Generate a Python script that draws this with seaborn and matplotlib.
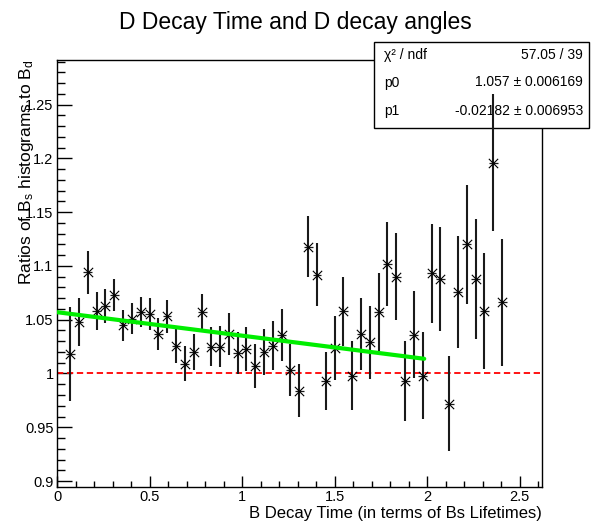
import matplotlib
matplotlib.use("Agg")
import matplotlib.pyplot as plt
from matplotlib.patches import Rectangle
from matplotlib.ticker import MultipleLocator, FuncFormatter
import numpy as np
import pandas as pd
import seaborn as sns

# Bin centres of the decay-time histogram (55 bins on 0..2.62, first bin empty)
bin_centres = [0.071, 0.119, 0.167, 0.214, 0.262, 0.310, 0.357, 0.405, 0.453, 0.500,
               0.548, 0.595, 0.643, 0.691, 0.738, 0.786, 0.834, 0.881, 0.929, 0.977,
               1.024, 1.072, 1.119, 1.167, 1.215, 1.262, 1.310, 1.358, 1.405, 1.453,
               1.501, 1.548, 1.596, 1.643, 1.691, 1.739, 1.786, 1.834, 1.882, 1.929,
               1.977, 2.025, 2.072, 2.120, 2.167, 2.215, 2.263, 2.310, 2.358, 2.406]
bin_half_width = 0.0238

# Bs / Bd ratio per bin and its statistical error
ratio = [1.018, 1.048, 1.094, 1.058, 1.063, 1.073, 1.045, 1.051, 1.057, 1.055,
         1.037, 1.053, 1.026, 1.009, 1.020, 1.057, 1.025, 1.025, 1.037, 1.019,
         1.023, 1.007, 1.020, 1.026, 1.036, 1.003, 0.984, 1.118, 1.092, 0.993,
         1.024, 1.058, 0.998, 1.037, 1.029, 1.057, 1.102, 1.090, 0.993, 1.036,
         0.998, 1.093, 1.088, 0.972, 1.076, 1.120, 1.088, 1.058, 1.196, 1.066]
ratio_err = [0.044, 0.022, 0.020, 0.0175, 0.016, 0.0153, 0.0144, 0.0144, 0.0139, 0.015,
             0.015, 0.015, 0.0158, 0.0163, 0.0166, 0.017, 0.018, 0.019, 0.0194, 0.0194,
             0.0206, 0.0204, 0.0217, 0.0229, 0.024, 0.024, 0.0248, 0.0282, 0.029, 0.0273,
             0.0297, 0.0321, 0.0321, 0.0335, 0.0337, 0.0361, 0.039, 0.0403, 0.0375, 0.0403,
             0.0406, 0.0461, 0.0482, 0.0444, 0.0519, 0.0553, 0.0556, 0.0538, 0.0635, 0.0588]

# Linear fit result (pol1) over the fit range
fit_p0, fit_p0_err = 1.057, 0.006169
fit_p1, fit_p1_err = -0.02182, 0.006953
fit_chi2, fit_ndf = 57.05, 39
fit_range = (0.0, 1.985)

title = "D Decay Time and D decay angles"
x_title = "B Decay Time (in terms of Bs Lifetimes)"
y_title = r"Ratios of B$_{\mathrm{s}}$ histograms to B$_{\mathrm{d}}$"

sns.set_theme(style="ticks")
plt.rcParams["font.family"] = ["Liberation Sans", "DejaVu Sans"]
plt.rcParams["mathtext.fontset"] = "custom"
plt.rcParams["mathtext.rm"] = "Liberation Sans"
plt.rcParams["mathtext.it"] = "Liberation Sans:italic"
plt.rcParams["mathtext.bf"] = "Liberation Sans:bold"

W, H = 591, 525
fig = plt.figure(figsize=(W / 100, H / 100), dpi=100)
fig.patch.set_facecolor("white")
ax = fig.add_axes([57 / W, (H - 487) / H, (541.7 - 57) / W, (487 - 60) / H])
ax.set_facecolor("white")

df = pd.DataFrame({"t": bin_centres, "ratio": ratio, "err": ratio_err})

# reference line at ratio = 1
ax.axhline(1.0, color="red", lw=1.3, dashes=(3.5, 2.0), zorder=1)

# error bars
ax.errorbar(df["t"], df["ratio"], yerr=df["err"], fmt="none",
            ecolor="#1a1a1a", elinewidth=1.5, capsize=0, zorder=4)
ax.errorbar(df["t"], df["ratio"], xerr=bin_half_width, fmt="none",
            ecolor="#1a1a1a", elinewidth=0.9, capsize=0, zorder=4)

# markers
sns.scatterplot(data=df, x="t", y="ratio", marker="x", color="black", s=45,
                linewidth=0.8, ax=ax, zorder=5, legend=False)

# fitted straight line
fit_x = np.linspace(fit_range[0], fit_range[1], 100)
sns.lineplot(x=fit_x, y=fit_p0 + fit_p1 * fit_x, color="#00ee00", lw=3,
             ax=ax, zorder=6)

ax.set_xlim(0, 2.62)
ax.set_ylim(0.8945, 1.2914)

ax.xaxis.set_major_locator(MultipleLocator(0.5))
ax.xaxis.set_minor_locator(MultipleLocator(0.1))
ax.yaxis.set_major_locator(MultipleLocator(0.05))
ax.yaxis.set_minor_locator(MultipleLocator(0.01))
fmt = FuncFormatter(lambda v, p: "%g" % round(v, 3))
ax.xaxis.set_major_formatter(fmt)
ax.yaxis.set_major_formatter(fmt)

ax.tick_params(which="both", direction="in", top=False, right=False,
               colors="black", width=1, labelsize=10.5)
ax.tick_params(axis="x", which="major", length=8, pad=2.5)
ax.tick_params(axis="x", which="minor", length=4)
ax.tick_params(axis="y", which="major", length=11, pad=2.5)
ax.tick_params(axis="y", which="minor", length=5.5)

for sp in ax.spines.values():
    sp.set_visible(True)
    sp.set_color("black")
    sp.set_linewidth(1.0)

ax.set_xlabel(x_title, fontsize=12, color="black")
ax.xaxis.label.set(ha="right", va="center")
ax.xaxis.set_label_coords(1.0, -0.063)

ax.set_ylabel(y_title, fontsize=12.5, color="black")
ax.yaxis.label.set(rotation_mode="default", ha="center", va="top")
ax.yaxis.set_label_coords(-0.062, 1.0)

fig.text(0.5, 1 - 22 / H, title, ha="center", va="center", fontsize=16.5, color="black")

# fit statistics box
box_l, box_r, box_t, box_b = 374, 589, 42, 127.5
ax.add_artist(Rectangle((box_l / W, 1 - box_b / H), (box_r - box_l) / W,
                        (box_b - box_t) / H, transform=fig.transFigure,
                        facecolor="white", edgecolor="black", lw=1.0,
                        clip_on=False, zorder=3.5))
rows = [("χ² / ndf", f"{fit_chi2:.2f} / {fit_ndf}"),
        ("p0", f"{fit_p0:.3f} ± {fit_p0_err:.6f}"),
        ("p1", f"{fit_p1:.5f} ± {fit_p1_err:.6f}")]
row_y = [55, 82.5, 111]
for (name, val), yy in zip(rows, row_y):
    ax.text(384 / W, 1 - yy / H, name, transform=fig.transFigure, ha="left",
            va="center", fontsize=10, color="black", zorder=3.6, clip_on=False)
    ax.text(583 / W, 1 - yy / H, val, transform=fig.transFigure, ha="right",
            va="center", fontsize=10, color="black", zorder=3.6, clip_on=False)

fig.savefig("out.png", dpi=100, facecolor="white")
